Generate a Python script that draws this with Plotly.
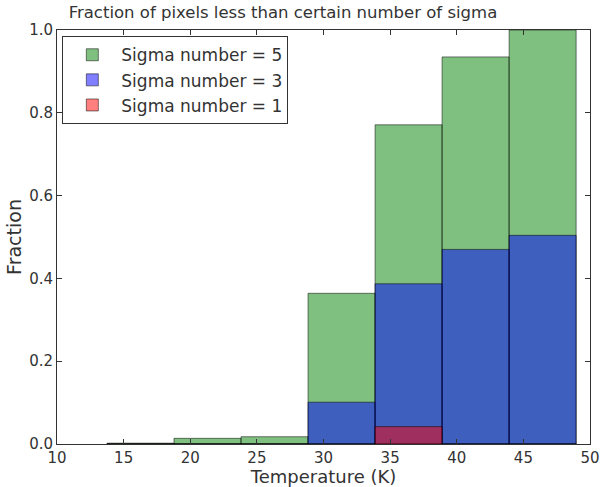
import plotly.graph_objects as go

bin_edges = [13.75, 18.78, 23.81, 28.84, 33.87, 38.9, 43.93, 48.96]
sigma5 = [0.002, 0.0137, 0.0176, 0.364, 0.771, 0.935, 1.0]
sigma3 = [0.0, 0.0, 0.0, 0.101, 0.387, 0.47, 0.504]
sigma1 = [0.0, 0.0, 0.0, 0.0, 0.042, 0.0, 0.0]

centers = [(a + b) / 2 for a, b in zip(bin_edges[:-1], bin_edges[1:])]
widths = [b - a for a, b in zip(bin_edges[:-1], bin_edges[1:])]

series = [
    ("Sigma number = 5", sigma5, "rgba(0,128,0,0.5)"),
    ("Sigma number = 3", sigma3, "rgba(0,0,255,0.5)"),
    ("Sigma number = 1", sigma1, "rgba(255,0,0,0.5)"),
]

fig = go.Figure()
for name, vals, col in series:
    fig.add_trace(go.Bar(
        x=centers, y=vals, width=widths, name=name,
        marker=dict(color=col, line=dict(color="rgba(0,0,0,0.5)", width=1)),
    ))

font = "DejaVu Sans, sans-serif"
fig.update_layout(
    width=602, height=487,
    barmode="overlay",
    plot_bgcolor="white", paper_bgcolor="white",
    margin=dict(l=57, r=12, t=30, b=43),
    font=dict(family=font, size=14, color="#333"),
    title=dict(text="Fraction of pixels less than certain number of sigma",
               x=0.424, xref="paper", xanchor="center",
               y=0.975, yref="container", yanchor="middle",
               font=dict(size=16.5, color="#333")),
    showlegend=True,
    legend=dict(x=0.01, y=0.985, xanchor="left", yanchor="top",
                bordercolor="#333", borderwidth=1, bgcolor="white",
                font=dict(size=17), traceorder="normal", itemwidth=48),
)
fig.update_xaxes(range=[10, 50], tickvals=[10, 15, 20, 25, 30, 35, 40, 45, 50],
                 automargin=False,
                 showgrid=False, zeroline=False, showline=True, linecolor="#333",
                 linewidth=1, mirror="allticks", ticks="inside", ticklen=5,
                 tickcolor="#333", tickfont=dict(size=15),
                 title=dict(text="Temperature (K)", standoff=4, font=dict(size=18)))
fig.update_yaxes(range=[0, 1], tickvals=[0, 0.2, 0.4, 0.6, 0.8, 1.0],
                 tickformat=".1f", automargin=False,
                 showgrid=False, zeroline=False, showline=True, linecolor="#333",
                 linewidth=1, mirror="allticks", ticks="inside", ticklen=5,
                 tickcolor="#333", tickfont=dict(size=15),
                 title=dict(text="Fraction", standoff=2, font=dict(size=19)))

fig.write_html("out.html")
